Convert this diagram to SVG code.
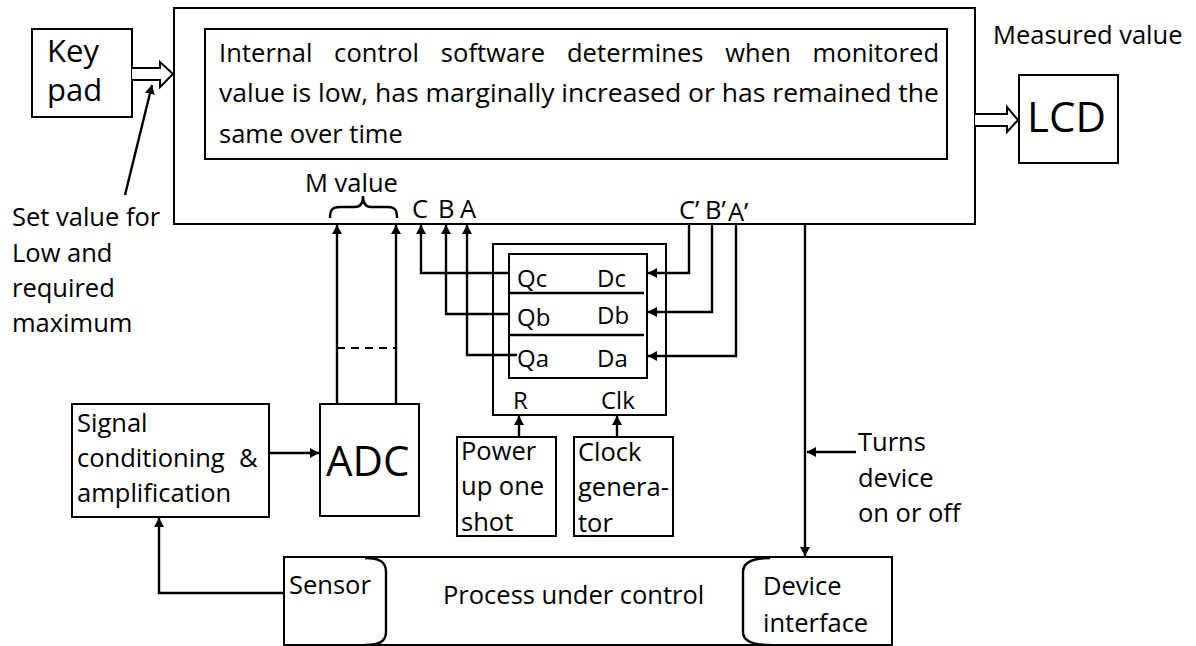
<svg xmlns="http://www.w3.org/2000/svg" width="1196" height="646" viewBox="0 0 1196 646">
<defs>
<marker id="ah" markerUnits="userSpaceOnUse" markerWidth="10" markerHeight="10" refX="9" refY="5" orient="auto">
<path d="M0,0 L9,5 L0,10 z" fill="#000"/>
</marker>
<style>
text{font-family:"Open Sans","Liberation Sans",sans-serif;font-size:25.5px;fill:#000}
.box{fill:#fff;stroke:#000;stroke-width:2}
.ln{fill:none;stroke:#000;stroke-width:2.4}
.arr{fill:none;stroke:#000;stroke-width:2.4;marker-end:url(#ah)}
.big{font-size:42px}
.mid{font-size:31px}
.sm{font-size:24px}
</style>
</defs>
<rect width="1196" height="646" fill="#fff"/>

<g id="controller">
<rect class="box" x="174" y="8" width="801" height="216"/>
</g>
<g id="software">
<rect class="box" x="205" y="29" width="742" height="130"/>
<text x="219" y="62" word-spacing="15" textLength="720" lengthAdjust="spacing">Internal control software determines when monitored</text>
<text x="219" y="102" textLength="720" lengthAdjust="spacingAndGlyphs">value is low, has marginally increased or has remained the</text>
<text x="219" y="143">same over time</text>
</g>
<g id="keypad">
<rect class="box" x="32" y="29" width="100" height="88"/>
<text class="mid" x="47" y="62">Key</text>
<text class="mid" x="47" y="101">pad</text>
</g>
<g id="lcd">
<rect class="box" x="1019" y="75" width="99" height="88"/>
<text class="big" x="1027" y="132">LCD</text>
</g>
<g id="register">
<rect class="box" x="493" y="244" width="173" height="171"/>
<rect class="box" x="509" y="254" width="138" height="124"/>
<line class="ln" x1="509" y1="293" x2="644" y2="293" stroke-width="2"/>
<line class="ln" x1="509" y1="335" x2="644" y2="335" stroke-width="2"/>
<text class="sm" x="517" y="287">Qc</text>
<text class="sm" x="597" y="287">Dc</text>
<text class="sm" x="517" y="326">Qb</text>
<text class="sm" x="597" y="324">Db</text>
<text class="sm" x="517" y="367">Qa</text>
<text class="sm" x="597" y="367">Da</text>
<text class="sm" x="513" y="409">R</text>
<text class="sm" x="601" y="409">Clk</text>
</g>
<g id="signal">
<rect class="box" x="72" y="404" width="197" height="113"/>
<text x="77" y="432">Signal</text>
<text y="467"><tspan x="77">conditioning</tspan><tspan x="239">&amp;</tspan></text>
<text x="77" y="502">amplification</text>
</g>
<g id="adc">
<rect class="box" x="320" y="404" width="99" height="112"/>
<text class="big" x="326" y="476">ADC</text>
</g>
<g id="oneshot">
<rect class="box" x="457" y="437" width="99" height="99"/>
<text x="461" y="460">Power</text>
<text x="461" y="495">up one</text>
<text x="461" y="531">shot</text>
</g>
<g id="clock">
<rect class="box" x="574" y="437" width="99" height="99"/>
<text x="578" y="461">Clock</text>
<text x="578" y="496">genera-</text>
<text x="578" y="532">tor</text>
</g>
<g id="process">
<rect class="box" x="284" y="557" width="608" height="88"/>
<path class="ln" stroke-width="2" d="M365,558 C380,558 386,562 386,572 L386,632 C386,641 380,645 365,645"/>
<path class="ln" stroke-width="2" d="M770,558 C752,558 743,562 743,572 L743,632 C743,641 752,645 770,645"/>
<text x="289" y="594">Sensor</text>
<text x="443" y="604">Process under control</text>
<text x="763" y="595">Device</text>
<text x="763" y="632">interface</text>
</g>

<g id="labels">
<text x="993" y="44">Measured value</text>
<text x="305" y="192">M value</text>
<text x="412" y="218">C</text>
<text x="438" y="218">B</text>
<text x="460" y="218">A</text>
<text x="679" y="219">C’</text>
<text x="705" y="219">B’</text>
<text x="728" y="221">A’</text>
<text x="12" y="226">Set value for</text>
<text x="12" y="262">Low and</text>
<text x="12" y="297">required</text>
<text x="12" y="332">maximum</text>
<text x="858" y="451">Turns</text>
<text x="858" y="487">device</text>
<text x="858" y="522">on or off</text>
<path class="ln" stroke-width="2" d="M330,218 C330,210 332,207 340,207 L355,207 C361,207 363,203 363,196 C363,203 365,207 371,207 L388,207 C395,207 397,210 397,218"/>
</g>

<g id="connectors">
<path fill="#fff" stroke="#000" stroke-width="2" d="M132,68 L160,68 L160,62 L173,74 L160,87 L160,80 L132,80"/>
<path fill="#fff" stroke="#000" stroke-width="2" d="M975,114 L1007,114 L1007,107 L1018,120 L1007,132 L1007,126 L975,126"/>
<line class="arr" x1="125" y1="195" x2="152" y2="85"/>
<line class="arr" x1="337" y1="404" x2="337" y2="225"/>
<line class="arr" x1="396" y1="404" x2="396" y2="225"/>
<line x1="337" y1="348" x2="396" y2="348" stroke="#000" stroke-width="2" stroke-dasharray="8,6"/>
<path class="arr" d="M508,273 L421,273 L421,225"/>
<path class="arr" d="M508,314 L446,314 L446,225"/>
<path class="arr" d="M517,355 L467,355 L467,225"/>
<path class="arr" d="M689,224 L689,273 L648,273"/>
<path class="arr" d="M712,224 L712,312 L648,312"/>
<path class="arr" d="M736,224 L736,356 L648,356"/>
<line class="arr" x1="519" y1="437" x2="519" y2="416"/>
<line class="arr" x1="617" y1="437" x2="617" y2="416"/>
<line class="arr" x1="269" y1="453" x2="319" y2="453"/>
<path class="arr" d="M284,593 L159,593 L159,518"/>
<line class="arr" x1="805" y1="224" x2="805" y2="556"/>
<line class="arr" x1="856" y1="452" x2="807" y2="452"/>
</g>
</svg>
